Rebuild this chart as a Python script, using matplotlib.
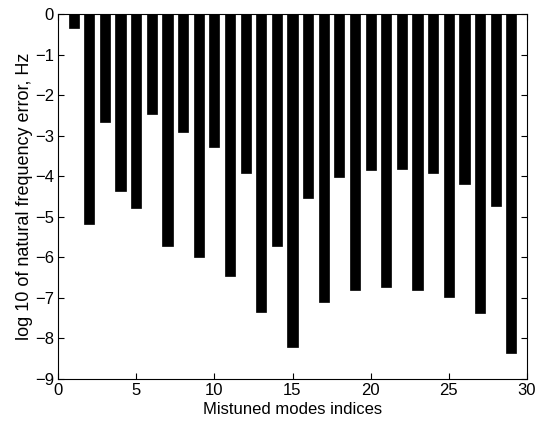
import matplotlib
matplotlib.use("Agg")
import matplotlib.pyplot as plt

mode_index = list(range(1, 30))
log_error = [-0.35, -5.17, -2.66, -4.36, -4.78, -2.46, -5.72, -2.91, -6.00, -3.29,
             -6.46, -3.92, -7.34, -5.71, -8.22, -4.53, -7.10, -4.01, -6.81, -3.84,
             -6.73, -3.82, -6.80, -3.93, -6.99, -4.18, -7.37, -4.74, -8.36]
x_ticks = [0, 5, 10, 15, 20, 25, 30]
y_ticks = [0, -1, -2, -3, -4, -5, -6, -7, -8, -9]

plt.rcParams['font.family'] = ['Liberation Sans', 'DejaVu Sans']
fig = plt.figure(figsize=(5.38, 4.21), dpi=100)
ax = fig.add_axes([58/538, 1 - 379/421, (527-58)/538, (379-14)/421])

ax.bar(mode_index, log_error, width=0.65, color='black', edgecolor='black', linewidth=0.5)

ax.set_xlim(0, 30)
ax.set_ylim(-9, 0)
ax.set_xticks(x_ticks)
ax.set_yticks(y_ticks)
ax.tick_params(direction='in', top=True, right=True, labelsize=12, length=4, width=0.8)
ax.tick_params(axis='x', pad=3)
ax.tick_params(axis='y', pad=3)
for s in ax.spines.values():
    s.set_linewidth(0.8)

ax.set_xlabel('Mistuned modes indices', fontsize=12, labelpad=3)
ax.set_ylabel('log 10 of natural frequency error, Hz', fontsize=13, labelpad=1)

fig.savefig('out.png', dpi=100)
